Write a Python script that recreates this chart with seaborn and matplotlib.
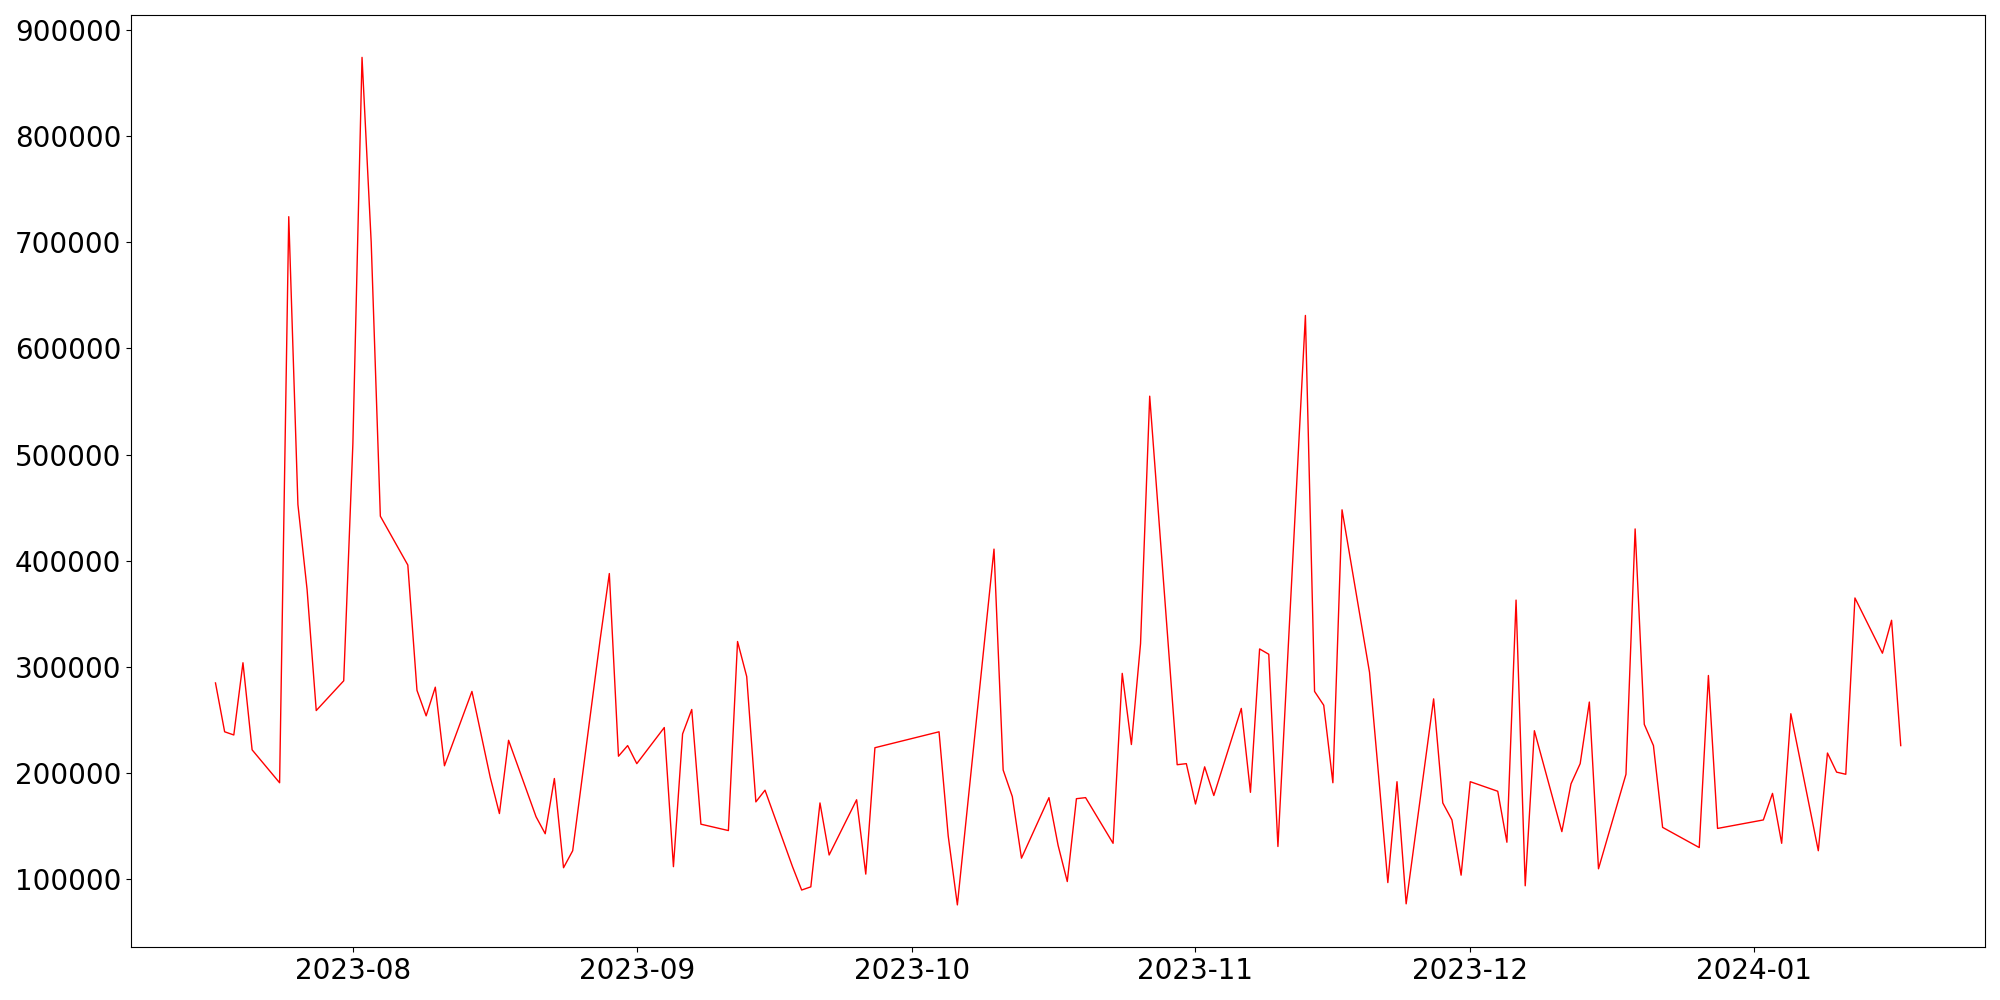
import pandas as pd
import matplotlib.pyplot as plt
import seaborn as sns

# daily values, one list per month (KRX trading days)
jul_2023 = [285000, 239000, 236000, 304000, 222000, 191000, 724000, 453000, 373000, 259000, 287000]
aug_2023 = [510000, 874000, 700000, 442000, 396000, 278000, 254000, 281000, 207000, 277000, 196000,
            162000, 231000, 159000, 143000, 195000, 111000, 127000, 326000, 388000, 216000, 226000]
sep_2023 = [209000, 243000, 112000, 237000, 260000, 152000, 146000, 324000, 291000, 173000, 184000,
            112000, 90000, 93000, 172000, 123000, 175000, 105000, 224000]
oct_2023 = [239000, 141000, 76000, 411000, 203000, 178000, 120000, 177000, 132000, 98000, 176000,
            177000, 134000, 294000, 227000, 322000, 555000, 208000, 209000]
nov_2023 = [171000, 206000, 179000, 261000, 182000, 317000, 312000, 131000, 631000, 277000, 264000,
            191000, 448000, 295000, 197000, 97000, 192000, 77000, 270000, 172000, 156000, 104000]
dec_2023 = [192000, 183000, 135000, 363000, 94000, 240000, 145000, 190000, 209000, 267000, 110000,
            199000, 430000, 246000, 226000, 149000, 130000, 292000, 148000]
jan_2024 = [156000, 181000, 134000, 256000, 127000, 219000, 201000, 199000, 365000, 313000, 344000, 226000]

start_date = "2023-07-17"
end_date = "2024-01-17"
market_holidays = ["2023-08-15", "2023-09-28", "2023-09-29", "2023-10-02", "2023-10-03",
                   "2023-10-09", "2023-12-25", "2023-12-29", "2024-01-01"]

values = jul_2023 + aug_2023 + sep_2023 + oct_2023 + nov_2023 + dec_2023 + jan_2024
dates = pd.bdate_range(start_date, end_date, freq="C", holidays=market_holidays)
df = pd.DataFrame({"date": dates, "value": values})

fig, ax = plt.subplots(figsize=(20, 10), dpi=100)
sns.lineplot(x="date", y="value", data=df, color="red", linewidth=1, ax=ax)
ax.set_xlabel("")
ax.set_ylabel("")
ax.tick_params(labelsize=20)

plt.tight_layout()
plt.savefig("out.png")
plt.close()
